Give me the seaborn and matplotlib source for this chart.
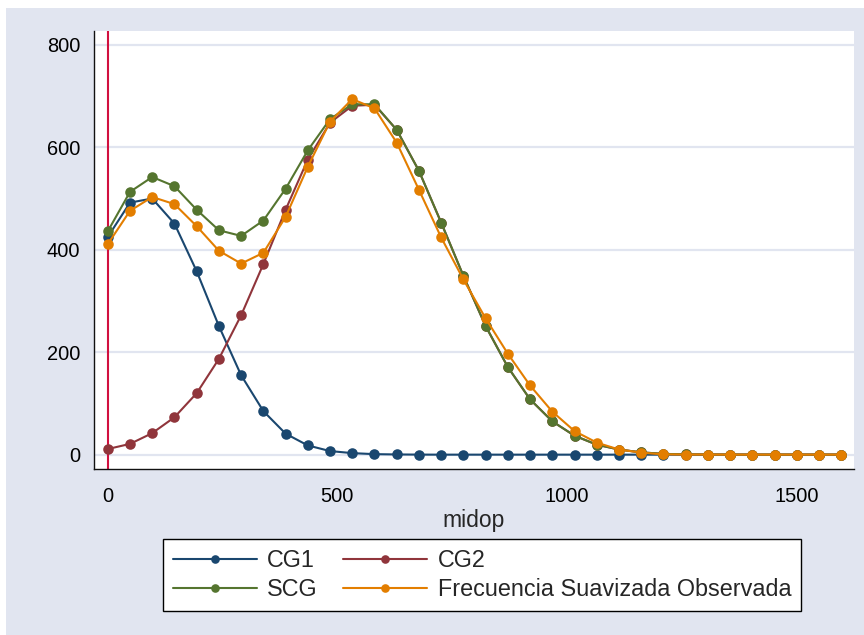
import matplotlib
matplotlib.use("Agg")
import matplotlib.pyplot as plt
from matplotlib.lines import Line2D
from matplotlib.patches import Rectangle
import seaborn as sns
import pandas as pd

# Bin midpoints
midop = [0, 48.4, 96.8, 145.2, 193.6, 242.0, 290.4, 338.8, 387.2, 435.6,
         484.0, 532.4, 580.8, 629.2, 677.6, 726.0, 774.4, 822.8, 871.2, 919.6,
         968.0, 1016.4, 1064.8, 1113.2, 1161.6, 1210.0, 1258.4, 1306.8, 1355.2,
         1403.6, 1452.0, 1500.4, 1548.8, 1597.2]

# First component
cg1 = [425, 492, 500, 451, 358, 251, 155, 85, 41, 18, 7, 3, 1, 0.4, 0.1,
       0, 0, 0, 0, 0, 0, 0, 0, 0, 0, 0, 0, 0, 0, 0, 0, 0, 0, 0]

# Second component
cg2 = [11, 21, 42, 73, 120, 187, 272, 372, 478, 576, 648, 681, 683,
       634, 554, 453, 349, 251, 171, 108, 65, 37, 19.5, 10, 4.5, 1.5, 0.5, 0.2, 0.1,
       0, 0, 0, 0, 0]

# Sum of components
scg = [436, 513, 542, 524, 478, 438, 427, 457, 519, 594, 655, 684, 684,
       634, 554, 453, 349, 251, 171, 108, 65, 37, 19.5, 10, 4.5, 1.5, 0.5, 0.2, 0.1,
       0, 0, 0, 0, 0]

# Smoothed observed frequency
obs = [411, 476, 503, 489, 446, 398, 373, 394, 464, 562, 650, 694, 676, 609,
       517, 424, 342, 266, 197, 135, 84, 46, 23.5, 10, 4, 0.6, 0.3, 0.2, 0.1,
       0.1, 0.1, 0.1, 0.1, 0.1]

series_names = ["CG1", "CG2", "SCG", "Frecuencia Suavizada Observada"]
series_values = [cg1, cg2, scg, obs]
colors = ["#1A476F", "#90353B", "#55752F", "#E37E00"]
y_ticks = [0, 200, 400, 600, 800]
x_ticks = [0, 500, 1000, 1500]

df = pd.concat(
    [pd.DataFrame({"midop": midop, "valor": v, "serie": n})
     for n, v in zip(series_names, series_values)],
    ignore_index=True,
)

sns.set_style("white")
plt.rcParams["font.family"] = ["Liberation Sans", "DejaVu Sans"]

bg = "#E1E5F0"
fig = plt.figure(figsize=(8.64, 6.35), dpi=100, facecolor="white")
fig.patches.append(Rectangle((6 / 864, 0), 1 - 6 / 864, 1 - 8 / 635,
                             transform=fig.transFigure, facecolor=bg,
                             edgecolor="none", zorder=-10))
ax = fig.add_axes([94 / 864, 1 - 469 / 635, 760 / 864, 438 / 635])
ax.set_facecolor("white")

for name, col in zip(series_names, colors):
    sns.lineplot(data=df[df["serie"] == name], x="midop", y="valor", ax=ax,
                 color=col, marker="o", markersize=7.6, markeredgewidth=0,
                 linewidth=1.5, legend=False, zorder=3)

ax.axvline(0, color="#D1103F", linewidth=1.5, zorder=2)

ax.set_xlim(-30, 1625)
ax.set_ylim(-28, 827)
ax.set_xticks(x_ticks)
ax.set_yticks(y_ticks)
ax.yaxis.grid(True, color=bg, linewidth=1.6, zorder=0)
ax.xaxis.grid(False)
ax.set_axisbelow(True)

for s in ["top", "right"]:
    ax.spines[s].set_visible(False)
for s in ["left", "bottom"]:
    ax.spines[s].set_color("#111111")
    ax.spines[s].set_linewidth(1.0)

ax.tick_params(axis="both", direction="out", length=6, width=0.9,
               color="#111111", labelsize=14.4, labelcolor="black")
ax.tick_params(axis="x", pad=7)
ax.tick_params(axis="y", pad=4)
ax.set_xlabel("midop", fontsize=16.5, labelpad=2)
ax.set_ylabel("")

# Legend filled row by row: CG1, CG2 / SCG, Frecuencia
order = [0, 2, 1, 3]
handles = [Line2D([0], [0], color=colors[i], linewidth=1.5, marker="o",
                  markersize=6.2, markeredgewidth=0) for i in order]
labels = [series_names[i] for i in order]
leg = fig.legend(handles, labels, ncol=2, loc="center",
                 bbox_to_anchor=(482 / 864, 1 - 575 / 635),
                 fontsize=16.8, frameon=True, fancybox=False,
                 handlelength=3.6, handletextpad=0.45, columnspacing=1.1,
                 labelspacing=0.28, borderpad=0.4, borderaxespad=0)
leg.get_frame().set_edgecolor("black")
leg.get_frame().set_linewidth(1.0)
leg.get_frame().set_facecolor("white")
leg.get_frame().set_alpha(1)

fig.savefig("out.png", dpi=100, facecolor="white")
